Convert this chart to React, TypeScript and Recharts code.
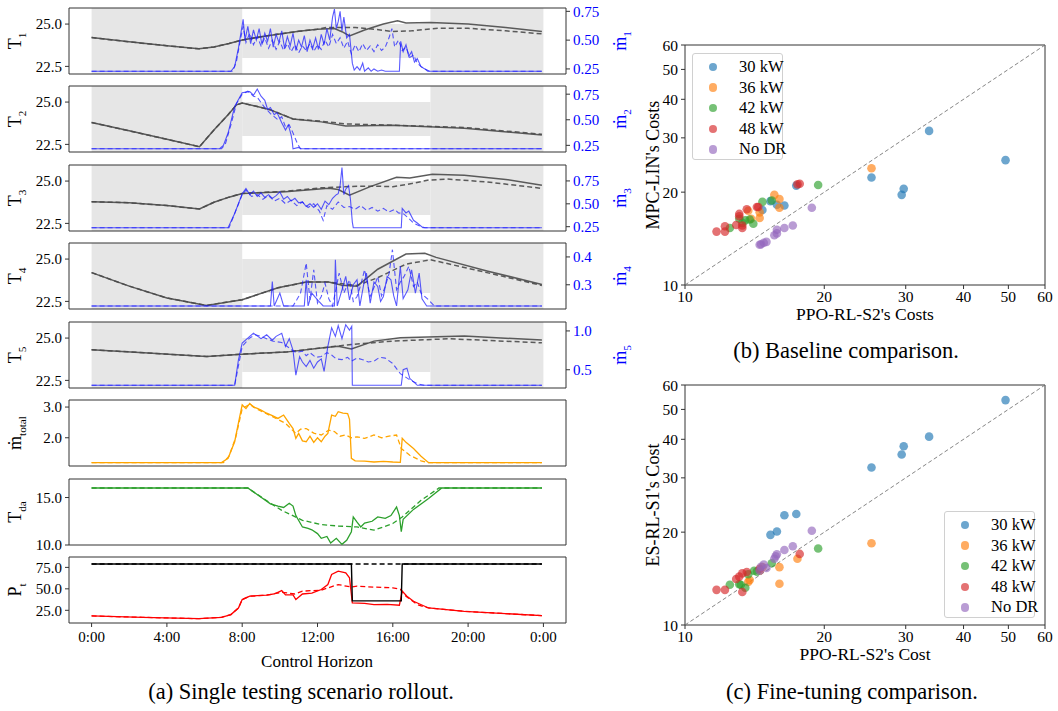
import React from 'react';
import { ComposedChart, Line, XAxis, YAxis, ReferenceArea, ScatterChart, Scatter, ReferenceLine } from 'recharts';

const FONT = '"Liberation Serif", "Times New Roman", "DejaVu Serif", serif';

// ---------- time axis ----------
const HOUR_TICKS = [0, 4, 8, 12, 16, 20, 24];
const X_DOMAIN = [-1.2, 25.2];
const OCC_START = 8;
const OCC_END = 18;
const COMFORT_LOW = 23;
const COMFORT_HIGH = 25;

// ---------- zone temperatures [hour, value] ----------
const T1_SOLID = [[0,24.2],[2,23.95],[4,23.72],[5.7,23.54],[6.5,23.65],[7.3,23.85],[8,24.06],[9,24.25],[10,24.42],[11,24.57],[12,24.7],[12.9,24.74],[13.3,24.55],[13.7,24.3],[14.5,24.65],[15.5,25.0],[16.25,25.2],[16.7,25.06],[18,25.1],[20,25.0],[22,24.8],[23.92,24.56]];
const T1_DASHED = [[0,24.2],[2,23.95],[4,23.72],[5.7,23.54],[6.5,23.65],[7.3,23.85],[8,24.06],[9,24.25],[10,24.42],[11,24.57],[12,24.7],[12.5,24.8],[14,24.8],[15,24.7],[16,24.56],[17,24.6],[18.5,24.76],[20,24.75],[22,24.6],[23.92,24.42]];
const T2_SOLID = [[0,23.79],[2,23.3],[4,22.8],[5.73,22.36],[6.5,23.35],[7.25,24.25],[7.7,24.84],[8,24.94],[8.8,24.74],[9.5,24.54],[10.7,24.0],[12.2,23.83],[13.5,23.59],[16,23.63],[19.8,23.45],[23.92,23.06]];
const T2_DASHED = [[0,23.79],[2,23.3],[4,22.8],[5.73,22.36],[6.5,23.35],[7.25,24.25],[7.7,24.84],[8,24.94],[8.8,24.74],[9.5,24.54],[10.7,24.0],[12.2,23.87],[13.5,23.71],[16,23.63],[19.8,23.5],[23.92,23.1]];
const T3_SOLID = [[0,23.78],[2,23.72],[4,23.55],[5.73,23.35],[6.5,23.75],[7.3,24.05],[8,24.27],[10.3,24.37],[12.6,24.57],[13.1,24.5],[13.7,24.17],[14.8,24.67],[16.2,25.22],[16.9,25.18],[18.1,25.41],[19.8,25.35],[22,25.1],[23.92,24.76]];
const T3_DASHED = [[0,23.78],[2,23.72],[4,23.55],[5.73,23.35],[6.5,23.75],[7.3,24.05],[8,24.27],[10.3,24.4],[12.2,24.6],[14.1,24.7],[15,24.7],[16,24.67],[17,24.85],[17.9,25.06],[18.9,25.12],[21,24.95],[23.92,24.57]];
const T4_SOLID = [[0,24.2],[2,23.4],[4,22.7],[6.1,22.26],[8,22.6],[9.9,23.3],[11.4,23.64],[12.6,23.64],[13.3,23.46],[14.1,23.4],[15.2,24.4],[16.7,25.3],[17.7,25.34],[18.3,25.1],[21,24.3],[23.92,23.5]];
const T4_DASHED = [[0,24.2],[2,23.4],[4,22.7],[6.1,22.26],[8,22.6],[9.9,23.3],[11.4,23.64],[12.6,23.64],[13.3,23.54],[14.1,23.44],[15.2,23.9],[16.7,24.7],[18,24.96],[21,24.2],[23.92,23.44]];
const T5_SOLID = [[0,24.31],[3,24.12],[6.1,23.91],[8,24.05],[10.3,24.17],[12.2,24.42],[13.1,24.52],[13.8,24.35],[15,24.82],[16.4,25.02],[19.8,25.12],[23.92,24.88]];
const T5_DASHED = [[0,24.31],[3,24.12],[6.1,23.91],[8,24.05],[10.3,24.17],[12.2,24.42],[13.8,24.62],[16,24.82],[19,24.96],[23.92,24.72]];

// ---------- zone mass flow rates [hour, value] ----------
const M1_SOLID = [[0,0.23],[7.4,0.23],[7.6,0.27],[7.8,0.43],[7.95,0.58],[8.05,0.68],[8.15,0.5],[8.3,0.62],[8.45,0.47],[8.6,0.59],[8.75,0.5],[8.9,0.6],[9.05,0.46],[9.2,0.56],[9.35,0.49],[9.5,0.6],[9.65,0.44],[9.8,0.55],[9.95,0.48],[10.1,0.58],[10.25,0.43],[10.4,0.53],[10.55,0.45],[10.7,0.56],[10.85,0.41],[11.0,0.5],[11.15,0.44],[11.3,0.54],[11.45,0.4],[11.6,0.5],[11.75,0.43],[11.9,0.52],[12.05,0.42],[12.2,0.55],[12.35,0.46],[12.5,0.6],[12.65,0.5],[12.8,0.7],[12.9,0.77],[13.0,0.6],[13.1,0.66],[13.2,0.75],[13.3,0.58],[13.4,0.7],[13.55,0.52],[13.7,0.55],[13.85,0.3],[13.95,0.24],[14.1,0.27],[14.25,0.24],[14.4,0.3],[14.5,0.23],[14.7,0.26],[14.85,0.23],[15.0,0.25],[15.2,0.23],[15.4,0.24],[15.6,0.23],[16.35,0.23],[16.42,0.49],[16.55,0.4],[16.7,0.46],[16.85,0.36],[17.0,0.4],[17.15,0.31],[17.3,0.34],[17.5,0.27],[17.7,0.25],[17.85,0.23],[23.92,0.23]];
const M1_DASHED = [[0,0.23],[7.5,0.23],[7.7,0.32],[7.9,0.5],[8.05,0.62],[8.2,0.48],[8.4,0.56],[8.6,0.46],[8.8,0.53],[9.0,0.45],[9.2,0.52],[9.4,0.43],[9.6,0.5],[9.8,0.42],[10.0,0.49],[10.2,0.41],[10.4,0.47],[10.6,0.4],[10.8,0.46],[11.0,0.39],[11.2,0.45],[11.4,0.41],[11.6,0.47],[11.8,0.4],[12.0,0.46],[12.2,0.42],[12.4,0.5],[12.6,0.44],[12.8,0.55],[13.0,0.47],[13.2,0.52],[13.4,0.43],[13.6,0.49],[13.8,0.38],[14.0,0.46],[14.2,0.4],[14.4,0.47],[14.6,0.41],[14.8,0.45],[15.0,0.4],[15.2,0.46],[15.4,0.41],[15.6,0.44],[15.8,0.52],[15.95,0.6],[16.1,0.44],[16.3,0.5],[16.5,0.41],[16.7,0.44],[16.9,0.35],[17.1,0.37],[17.3,0.3],[17.5,0.27],[17.7,0.25],[17.95,0.23],[23.92,0.23]];
const M2_SOLID = [[0,0.217],[6.8,0.217],[7.0,0.25],[7.25,0.37],[7.6,0.63],[8.0,0.765],[8.2,0.77],[8.4,0.775],[8.6,0.74],[8.8,0.8],[9.0,0.73],[9.2,0.69],[9.35,0.6],[9.5,0.62],[9.7,0.55],[9.85,0.57],[10.1,0.47],[10.3,0.4],[10.45,0.45],[10.6,0.35],[10.65,0.3],[10.7,0.217],[11.0,0.23],[11.1,0.217],[23.92,0.217]];
const M2_DASHED = [[0,0.217],[6.9,0.217],[7.1,0.26],[7.4,0.45],[7.7,0.66],[8.0,0.75],[8.3,0.78],[8.6,0.73],[8.8,0.72],[9.15,0.63],[9.5,0.56],[9.9,0.5],[10.1,0.53],[10.3,0.43],[10.5,0.45],[10.7,0.37],[10.95,0.26],[11.1,0.217],[23.92,0.217]];
const M3_SOLID = [[0,0.239],[7.25,0.239],[7.6,0.395],[8.0,0.61],[8.2,0.667],[8.4,0.6],[8.6,0.64],[8.8,0.58],[9.0,0.62],[9.2,0.57],[9.4,0.6],[9.6,0.56],[9.8,0.59],[10.0,0.63],[10.2,0.55],[10.4,0.58],[10.6,0.53],[10.8,0.56],[11.0,0.51],[11.2,0.52],[11.4,0.47],[11.6,0.5],[11.8,0.46],[12.0,0.5],[12.2,0.44],[12.4,0.53],[12.6,0.49],[12.8,0.56],[13.0,0.6],[13.1,0.61],[13.2,0.7],[13.3,0.895],[13.4,0.6],[13.5,0.66],[13.65,0.7],[13.75,0.55],[13.85,0.3],[13.9,0.239],[16.45,0.239],[16.5,0.45],[16.7,0.4],[16.85,0.42],[17.1,0.32],[17.3,0.29],[17.6,0.239],[23.92,0.239]];
const M3_DASHED = [[0,0.239],[7.3,0.239],[7.65,0.42],[8.0,0.6],[8.2,0.65],[8.5,0.58],[8.8,0.6],[9.1,0.55],[9.4,0.59],[9.7,0.53],[10.0,0.56],[10.3,0.5],[10.6,0.54],[10.9,0.48],[11.2,0.52],[11.5,0.46],[11.8,0.5],[12.1,0.42],[12.3,0.32],[12.5,0.48],[12.8,0.44],[13.1,0.52],[13.4,0.46],[13.7,0.47],[14.0,0.44],[14.3,0.48],[14.6,0.43],[14.9,0.46],[15.2,0.42],[15.5,0.45],[15.8,0.41],[16.1,0.44],[16.3,0.4],[16.55,0.395],[16.8,0.35],[17.1,0.29],[17.4,0.26],[17.7,0.239],[23.92,0.239]];
const M4_SOLID = [[0,0.224],[9.5,0.224],[9.6,0.312],[9.7,0.224],[10.0,0.27],[10.2,0.224],[11.3,0.224],[11.4,0.318],[11.5,0.224],[11.7,0.27],[12.0,0.246],[12.3,0.224],[12.9,0.224],[12.95,0.39],[13.05,0.224],[13.3,0.282],[13.5,0.33],[13.7,0.246],[13.9,0.3],[14.1,0.318],[14.25,0.224],[14.45,0.3],[14.6,0.342],[14.8,0.234],[15.0,0.31],[15.2,0.294],[15.35,0.24],[15.5,0.258],[15.7,0.33],[15.9,0.318],[16.05,0.26],[16.2,0.224],[16.4,0.366],[16.55,0.25],[16.8,0.282],[17.0,0.354],[17.2,0.27],[17.4,0.342],[17.55,0.25],[17.8,0.224],[23.92,0.224]];
const M4_DASHED = [[0,0.224],[10.7,0.224],[10.9,0.246],[11.1,0.27],[11.4,0.378],[11.6,0.246],[11.8,0.354],[12.0,0.234],[12.2,0.258],[12.4,0.306],[12.6,0.25],[12.8,0.224],[13.15,0.342],[13.4,0.27],[13.7,0.318],[13.9,0.24],[14.1,0.258],[14.3,0.3],[14.5,0.354],[14.8,0.258],[15.0,0.29],[15.2,0.33],[15.4,0.26],[15.6,0.294],[15.8,0.34],[15.98,0.426],[16.2,0.282],[16.4,0.31],[16.6,0.33],[16.85,0.366],[17.1,0.294],[17.3,0.31],[17.5,0.27],[17.9,0.246],[18.2,0.224],[23.92,0.224]];
const M5_SOLID = [[0,0.3],[7.6,0.3],[7.8,0.627],[8.0,0.845],[8.4,0.93],[8.6,0.97],[9.0,0.9],[9.3,0.95],[9.6,0.88],[9.8,0.93],[10.1,0.97],[10.3,0.8],[10.5,0.9],[10.7,0.75],[10.85,0.43],[11.05,0.67],[11.2,0.6],[11.4,0.54],[11.6,0.62],[11.8,0.52],[12.0,0.6],[12.2,0.64],[12.35,0.48],[12.55,0.8],[12.75,1.04],[12.95,0.93],[13.1,1.07],[13.3,0.9],[13.5,1.08],[13.7,1.01],[13.82,1.06],[13.85,0.3],[16.45,0.3],[16.55,0.5],[16.75,0.52],[16.9,0.39],[17.3,0.3],[23.92,0.3]];
const M5_DASHED = [[0,0.3],[7.6,0.3],[8.0,0.8],[8.4,0.91],[8.7,0.95],[9.0,0.93],[9.3,0.9],[9.6,0.87],[10.1,0.85],[10.5,0.78],[10.85,0.72],[11.2,0.74],[11.4,0.68],[11.6,0.72],[11.9,0.66],[12.2,0.67],[12.5,0.72],[12.75,0.69],[13.0,0.64],[13.3,0.63],[13.6,0.66],[13.8,0.61],[14.1,0.65],[14.4,0.63],[14.7,0.6],[15.0,0.61],[15.3,0.66],[15.6,0.65],[16.0,0.58],[16.4,0.45],[16.9,0.37],[17.3,0.32],[17.7,0.3],[23.92,0.3]];

// ---------- total flow, discharge air temp, power [hour, value] ----------
const MT_SOLID = [[0,1.19],[6.9,1.19],[7.25,1.33],[7.6,1.87],[7.85,2.63],[8.0,3.07],[8.2,2.95],[8.4,3.12],[8.6,3.0],[8.8,2.96],[9.0,2.9],[9.3,2.8],[9.6,2.72],[9.9,2.63],[10.2,2.74],[10.5,2.47],[10.7,2.3],[10.85,1.98],[11.0,2.14],[11.2,1.9],[11.4,1.87],[11.6,2.05],[11.8,1.85],[12.0,2.0],[12.2,1.87],[12.4,2.05],[12.55,2.14],[12.75,2.74],[12.95,2.7],[13.1,2.85],[13.35,2.8],[13.6,2.79],[13.7,2.6],[13.8,1.33],[14.0,1.25],[14.5,1.24],[15.0,1.21],[15.5,1.23],[16.0,1.21],[16.4,1.2],[16.5,1.98],[16.7,1.85],[17.1,1.65],[17.5,1.4],[17.9,1.19],[23.92,1.19]];
const MT_DASHED = [[0,1.19],[7.0,1.19],[7.3,1.4],[7.65,2.0],[8.0,2.95],[8.4,3.09],[8.8,2.93],[9.5,2.72],[10.3,2.47],[10.85,2.14],[11.1,2.28],[11.4,2.3],[11.8,2.15],[12.2,2.09],[12.6,2.25],[12.9,2.2],[13.2,2.05],[13.5,2.09],[13.8,2.0],[14.1,2.03],[14.5,1.98],[15.0,2.09],[15.4,2.0],[15.8,2.05],[16.2,2.09],[16.45,1.65],[16.9,1.43],[17.5,1.25],[17.9,1.19],[23.92,1.19]];
const TDA_SOLID = [[0,16],[8.3,16],[9.5,14.34],[9.9,14.1],[10.2,13.95],[10.5,14.4],[10.7,14.1],[10.85,13.1],[11.2,11.9],[11.5,11.75],[11.7,11.6],[12.0,11.2],[12.2,10.7],[12.5,10.9],[12.7,10.2],[13.0,10.7],[13.3,10.07],[13.55,10.5],[13.8,11.4],[13.9,12.95],[14.1,12.4],[14.3,11.9],[14.5,12.3],[14.9,12.5],[15.2,12.95],[15.6,12.8],[15.9,13.1],[16.2,14.0],[16.35,13.1],[16.45,11.4],[16.55,12.7],[17.1,13.75],[17.9,14.9],[18.6,16],[23.92,16]];
const TDA_DASHED = [[0,16],[8.3,16],[9.5,14.4],[10.1,13.65],[11.2,12.6],[12.2,12.15],[13.1,12.0],[14.1,11.9],[15.0,11.56],[16.0,12.26],[16.5,12.95],[17.5,14.7],[18.45,16],[23.92,16]];
const P_SOLID = [[0,18.4],[2.7,16.8],[5.7,15.2],[6.9,16.8],[7.4,20],[7.8,27.7],[8.0,37.5],[8.4,41.4],[8.8,42],[9.3,42.6],[9.7,44],[10.1,48],[10.3,43],[10.7,43],[10.85,37.5],[11.2,44],[11.7,45],[12.2,49.2],[12.55,55],[12.75,66.8],[13.1,70.7],[13.5,68.7],[13.7,62.9],[13.85,33.6],[14.5,33],[15,31.6],[15.7,32],[16.35,30.9],[16.5,47.3],[16.75,41.4],[17.1,35.5],[17.9,27.7],[19.8,23.8],[23.92,18.75]];
const P_DASHED = [[0,18.4],[2.7,16.8],[5.7,15.2],[6.9,16.8],[7.4,20],[7.8,27.7],[8.0,37.5],[8.4,41.4],[9.3,42.6],[10.1,46],[10.8,44],[11.2,47.3],[12.2,48.5],[13.1,55],[13.8,52],[14.1,53.1],[15.0,52],[16.0,51.2],[16.4,49.5],[16.7,41.4],[17.3,31.6],[17.9,27.7],[19.8,23.8],[23.92,18.75]];
const PLIM_SOLID = [[0,79],[13.8,79],[13.85,36],[16.45,36],[16.5,79],[23.92,79]];
const PLIM_DASHED = [[0,79],[23.92,79]];

// ---------- scatter data [PPO-RL-S2 cost, other cost] ----------
const B_30 = [[49.3,25.4],[33.7,31.6],[25.3,22.3],[29.7,20.5],[29.4,19.6],[17.4,21.0],[15.3,18.7],[15.8,18.2],[16.4,18.1],[14.7,17.5]];
const B_36 = [[25.3,23.9],[15.6,19.6],[16.0,19.0],[16.0,17.8],[14.5,17.2],[14.5,16.5],[13.7,17.4],[13.9,16.4]];
const B_42 = [[19.4,21.1],[14.7,18.6],[15.4,18.8],[12.5,15.3],[13.1,16.4],[13.5,16.2],[13.8,16.3],[14.05,15.8],[13.3,15.9]];
const B_48 = [[11.7,14.9],[12.2,15.5],[12.2,14.9],[12.9,15.65],[13.1,17.0],[13.1,16.7],[13.3,15.3],[13.3,15.6],[13.6,17.6],[14.3,17.9],[14.4,17.9],[17.7,21.3],[17.5,21.2]];
const B_NODR = [[18.8,17.8],[17.1,15.6],[16.4,15.3],[15.8,15.1],[15.8,14.7],[15.6,14.5],[15.0,13.8],[14.8,13.7],[14.6,13.55],[14.5,13.5]];
const C_30 = [[49.3,53.6],[33.7,40.8],[29.7,38.0],[29.4,35.7],[25.3,32.4],[17.4,22.9],[16.4,22.7],[15.8,20.1],[15.3,19.6]];
const C_36 = [[25.3,18.4],[17.5,16.4],[16.0,15.4],[16.0,13.6],[13.8,14.0],[13.7,13.8],[14.5,15.0],[14.7,15.4]];
const C_42 = [[19.4,17.7],[15.4,15.85],[12.5,13.5],[13.1,13.55],[13.2,13.5],[13.5,13.2],[13.7,14.6],[14.1,15.0],[14.3,14.9]];
const C_48 = [[11.7,13.0],[12.2,13.0],[13.3,12.8],[12.9,14.1],[13.1,14.35],[13.3,14.7],[13.6,14.85],[14.5,15.2],[17.7,17.0]];
const C_NODR = [[18.8,20.2],[17.1,18.0],[16.4,17.5],[15.8,16.95],[15.7,16.7],[15.6,16.4],[15.0,15.3],[14.8,15.7],[14.6,15.45],[14.5,15.0]];
const LOG_TICKS = [10, 20, 30, 40, 50, 60];
const GROUP_LABELS = ['30 kW', '36 kW', '42 kW', '48 kW', 'No DR'];
const GROUP_COLORS = ['#1f77b4', '#ff7f0e', '#2ca02c', '#d62728', '#9467bd'];

const toObj = (arr: number[][]) => arr.map(([t, v]) => ({ t, v }));
const toXY = (arr: number[][]) => arr.map(([x, y]) => ({ x, y }));

const BLUE = '#1a1aff';
const GRAYLINE = '#4a4a4a';

type Series = { data: number[][]; axis: 'L' | 'R'; color: string; dashed?: boolean; width?: number; opacity?: number };

type PanelProps = {
  top: number;
  yDomain: number[];
  yTicks: number[];
  yDigits: number;
  rDomain?: number[];
  rTicks?: number[];
  rDigits?: number;
  shade?: boolean;
  series: Series[];
  showX?: boolean;
};

const PLOT_H = 66;
const TOP_PAD = 10;

function Panel({ top, yDomain, yTicks, yDigits, rDomain, rTicks, rDigits, shade, series, showX }: PanelProps) {
  const xh = showX ? 26 : 12;
  const h = TOP_PAD + PLOT_H + xh;
  const tickStyle = { fontSize: 15, fill: '#000', fontFamily: FONT };
  return (
    <div style={{ position: 'absolute', left: 0, top: top - TOP_PAD }}>
      <ComposedChart width={640} height={h} margin={{ top: TOP_PAD, right: 0, bottom: 0, left: 0 }}>
        <XAxis
          type="number"
          dataKey="t"
          domain={X_DOMAIN}
          ticks={HOUR_TICKS}
          interval={0}
          allowDataOverflow
          axisLine={false}
          tickSize={4}
          tickMargin={4}
          height={xh}
          tickLine={{ stroke: '#333' }}
          tick={showX ? tickStyle : false}
          tickFormatter={(h: number) => `${h % 24}:00`}
        />
        <YAxis
          yAxisId="L"
          type="number"
          domain={yDomain}
          ticks={yTicks}
          interval={0}
          allowDataOverflow
          width={69}
          axisLine={false}
          tickSize={4}
          tickMargin={3}
          tickLine={{ stroke: '#333' }}
          tick={tickStyle}
          tickFormatter={(v: number) => v.toFixed(yDigits)}
        />
        <YAxis
          yAxisId="R"
          orientation="right"
          type="number"
          domain={rDomain || yDomain}
          ticks={rTicks || []}
          interval={0}
          allowDataOverflow
          width={74}
          axisLine={false}
          tickSize={4}
          tickMargin={3}
          tickLine={rTicks ? { stroke: '#333' } : false}
          tick={rTicks ? { ...tickStyle, fill: '#0000ff' } : false}
          tickFormatter={(v: number) => v.toFixed(rDigits || 2)}
        />
        {shade && <ReferenceArea yAxisId="L" x1={0} x2={OCC_START} y1={yDomain[0]} y2={yDomain[1]} fill="#e6e6e6" fillOpacity={1} stroke="none" />}
        {shade && <ReferenceArea yAxisId="L" x1={OCC_START} x2={OCC_END} y1={COMFORT_LOW} y2={COMFORT_HIGH} fill="#e6e6e6" fillOpacity={1} stroke="none" />}
        {shade && <ReferenceArea yAxisId="L" x1={OCC_END} x2={24} y1={yDomain[0]} y2={yDomain[1]} fill="#e6e6e6" fillOpacity={1} stroke="none" />}
        {series.map((s, i) => (
          <Line
            key={i}
            yAxisId={s.axis}
            data={toObj(s.data)}
            dataKey="v"
            type="linear"
            stroke={s.color}
            strokeOpacity={s.opacity ?? 1}
            strokeWidth={s.width ?? 1.2}
            strokeDasharray={s.dashed ? '5 3' : undefined}
            dot={false}
            activeDot={false}
            isAnimationActive={false}
          />
        ))}
        <ReferenceArea yAxisId="L" x1={X_DOMAIN[0]} x2={X_DOMAIN[1]} y1={yDomain[0]} y2={yDomain[1]} fill="none" stroke="#333" strokeWidth={1} />
      </ComposedChart>
    </div>
  );
}

function RotLabel({ x, y, main, sub, color, size = 18 }: { x: number; y: number; main: string; sub: string; color?: string; size?: number }) {
  return (
    <div
      style={{
        position: 'absolute', left: x, top: y, transform: 'translate(-50%, -50%) rotate(-90deg)',
        whiteSpace: 'nowrap', fontFamily: FONT, fontSize: size, color: color || '#000', lineHeight: 1,
      }}
    >
      {main}
      <sub style={{ fontSize: size * 0.62, verticalAlign: 'sub' }}>{sub}</sub>
    </div>
  );
}

function Text({ x, y, children, size = 17, rotate = false }: { x: number; y: number; children: React.ReactNode; size?: number; rotate?: boolean }) {
  return (
    <div
      style={{
        position: 'absolute', left: x, top: y,
        transform: `translate(-50%, -50%)${rotate ? ' rotate(-90deg)' : ''}`,
        whiteSpace: 'nowrap', fontFamily: FONT, fontSize: size, color: '#000', lineHeight: 1,
      }}
    >
      {children}
    </div>
  );
}

const circle = (color: string) => (props: any) => (
  <circle cx={props.cx} cy={props.cy} r={4.3} fill={color} fillOpacity={0.65} stroke="none" />
);

function ScatterPanel({ top, groups }: { top: number; groups: number[][][] }) {
  const tickStyle = { fontSize: 15.5, fill: '#000', fontFamily: FONT };
  return (
    <div style={{ position: 'absolute', left: 600, top: top - 15 }}>
      <ScatterChart width={458} height={15 + 240 + 30} margin={{ top: 15, right: 13, bottom: 0, left: 0 }}>
        <XAxis type="number" dataKey="x" scale="log" domain={[10, 60]} ticks={LOG_TICKS} interval={0} allowDataOverflow
          height={30} axisLine={false} tickSize={4} tickMargin={2} tickLine={{ stroke: '#333' }} tick={tickStyle} />
        <YAxis type="number" dataKey="y" scale="log" domain={[10, 60]} ticks={LOG_TICKS} interval={0} allowDataOverflow
          width={85} axisLine={false} tickSize={4} tickMargin={3} tickLine={{ stroke: '#333' }} tick={tickStyle} />
        <ReferenceLine segment={[{ x: 10, y: 10 }, { x: 60, y: 60 }]} stroke="#777" strokeWidth={0.9} strokeDasharray="4 2.5" />
        {groups.map((g, i) => (
          <Scatter key={i} data={toXY(g)} fill={GROUP_COLORS[i]} shape={circle(GROUP_COLORS[i])} isAnimationActive={false} />
        ))}
        <ReferenceArea x1={10} x2={60} y1={10} y2={60} fill="none" stroke="#333" strokeWidth={1} />
      </ScatterChart>
    </div>
  );
}

function LegendBox({ left, top }: { left: number; top: number }) {
  return (
    <div style={{
      position: 'absolute', left, top, width: 91, height: 107, border: '1px solid #d0d0d0', borderRadius: 3,
      background: 'rgba(255,255,255,0.85)', fontFamily: FONT, fontSize: 16.5, boxSizing: 'border-box',
    }}>
      {GROUP_LABELS.map((lab, i) => (
        <div key={lab} style={{ position: 'absolute', left: 0, top: 3 + i * 20.6, height: 20, display: 'flex', alignItems: 'center', whiteSpace: 'nowrap' }}>
          <span style={{ display: 'inline-block', width: 8.6, height: 8.6, borderRadius: 5, background: GROUP_COLORS[i], opacity: 0.65, marginLeft: 15.5, marginRight: 22 }} />
          <span>{lab}</span>
        </div>
      ))}
    </div>
  );
}

const PANEL_TOPS = [7.5, 86, 164.5, 243, 321.5, 400, 478.5, 557];
const T_DOMAIN = [22.05, 25.95];
const T_TICKS = [22.5, 25.0];

export default function App() {
  const tBlack = (d: number[][], dashed = false): Series => ({ data: d, axis: 'L', color: GRAYLINE, dashed, width: 1.5, opacity: 0.9 });
  const mBlue = (d: number[][], dashed = false): Series => ({ data: d, axis: 'R', color: BLUE, dashed, width: 1.1, opacity: 0.72 });
  const mid = (i: number) => PANEL_TOPS[i] + PLOT_H / 2;
  return (
    <div style={{ position: 'absolute', left: 0, top: 0, width: 1058, height: 711, background: '#fff', overflow: 'hidden' }}>
      <Panel top={PANEL_TOPS[0]} yDomain={T_DOMAIN} yTicks={T_TICKS} yDigits={1} rDomain={[0.206, 0.779]} rTicks={[0.25, 0.5, 0.75]} rDigits={2} shade
        series={[tBlack(T1_SOLID), tBlack(T1_DASHED, true), mBlue(M1_SOLID), mBlue(M1_DASHED, true)]} />
      <Panel top={PANEL_TOPS[1]} yDomain={T_DOMAIN} yTicks={T_TICKS} yDigits={1} rDomain={[0.185, 0.83]} rTicks={[0.25, 0.5, 0.75]} rDigits={2} shade
        series={[tBlack(T2_SOLID), tBlack(T2_DASHED, true), mBlue(M2_SOLID), mBlue(M2_DASHED, true)]} />
      <Panel top={PANEL_TOPS[2]} yDomain={T_DOMAIN} yTicks={T_TICKS} yDigits={1} rDomain={[0.203, 0.924]} rTicks={[0.25, 0.5, 0.75]} rDigits={2} shade
        series={[tBlack(T3_SOLID), tBlack(T3_DASHED, true), mBlue(M3_SOLID), mBlue(M3_DASHED, true)]} />
      <Panel top={PANEL_TOPS[3]} yDomain={T_DOMAIN} yTicks={T_TICKS} yDigits={1} rDomain={[0.213, 0.45]} rTicks={[0.3, 0.4]} rDigits={1} shade
        series={[tBlack(T4_SOLID), tBlack(T4_DASHED, true), mBlue(M4_SOLID), mBlue(M4_DASHED, true)]} />
      <Panel top={PANEL_TOPS[4]} yDomain={T_DOMAIN} yTicks={T_TICKS} yDigits={1} rDomain={[0.265, 1.115]} rTicks={[0.5, 1.0]} rDigits={1} shade
        series={[tBlack(T5_SOLID), tBlack(T5_DASHED, true), mBlue(M5_SOLID), mBlue(M5_DASHED, true)]} />
      <Panel top={PANEL_TOPS[5]} yDomain={[1.08, 3.23]} yTicks={[2.0, 3.0]} yDigits={1}
        series={[{ data: MT_SOLID, axis: 'L', color: '#ffa500', width: 1.3 }, { data: MT_DASHED, axis: 'L', color: '#ffa500', dashed: true, width: 1.3 }]} />
      <Panel top={PANEL_TOPS[6]} yDomain={[10, 16.95]} yTicks={[10.0, 15.0]} yDigits={1}
        series={[{ data: TDA_SOLID, axis: 'L', color: '#2ca02c', width: 1.3 }, { data: TDA_DASHED, axis: 'L', color: '#2ca02c', dashed: true, width: 1.3 }]} />
      <Panel top={PANEL_TOPS[7]} yDomain={[10.2, 87.1]} yTicks={[25, 50, 75]} yDigits={1} showX
        series={[
          { data: P_SOLID, axis: 'L', color: '#ff0000', width: 1.3 },
          { data: P_DASHED, axis: 'L', color: '#ff0000', dashed: true, width: 1.3 },
          { data: PLIM_SOLID, axis: 'L', color: '#000', width: 1.4 },
          { data: PLIM_DASHED, axis: 'L', color: '#000', dashed: true, width: 1.4 },
        ]} />

      {[0, 1, 2, 3, 4].map((i) => (
        <RotLabel key={'t' + i} x={17} y={mid(i)} main="T" sub={String(i + 1)} />
      ))}
      {[0, 1, 2, 3, 4].map((i) => (
        <RotLabel key={'m' + i} x={622} y={mid(i)} main="ṁ" sub={String(i + 1)} color="#0000ff" />
      ))}
      <RotLabel x={17} y={mid(5)} main="ṁ" sub="total" />
      <RotLabel x={17} y={mid(6)} main="T" sub="da" />
      <RotLabel x={17} y={mid(7)} main="P" sub="t" />

      <Text x={317} y={661}>Control Horizon</Text>
      <Text x={301} y={692} size={22.5}>(a) Single testing scenario rollout.</Text>

      <ScatterPanel top={45} groups={[B_30, B_36, B_42, B_48, B_NODR]} />
      <ScatterPanel top={385} groups={[C_30, C_36, C_42, C_48, C_NODR]} />
      <LegendBox left={692} top={53} />
      <LegendBox left={944} top={511} />
      <Text x={653} y={165} rotate size={18}>MPC-LIN's Costs</Text>
      <Text x={865} y={315} size={17.5}>PPO-RL-S2's Costs</Text>
      <Text x={653} y={505} rotate size={18}>ES-RL-S1's Cost</Text>
      <Text x={865} y={655} size={17.5}>PPO-RL-S2's Cost</Text>
      <Text x={846} y={351} size={22.5}>(b) Baseline comparison.</Text>
      <Text x={852} y={692} size={22.5}>(c) Fine-tuning comparison.</Text>
    </div>
  );
}
